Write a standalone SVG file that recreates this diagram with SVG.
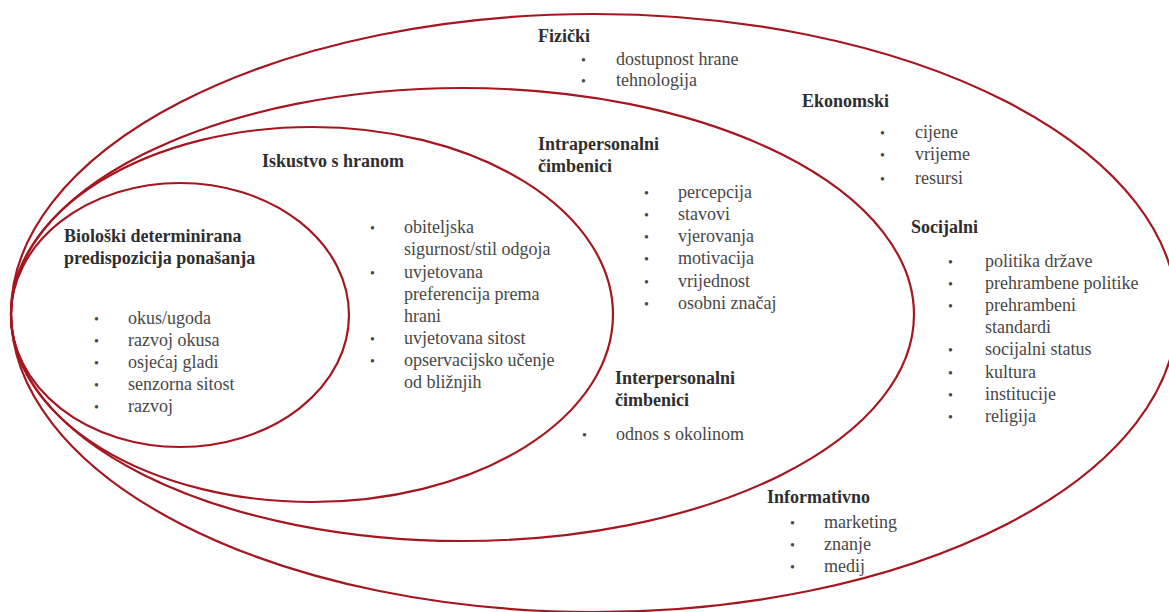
<svg xmlns="http://www.w3.org/2000/svg" width="1169" height="612" viewBox="0 0 1169 612">
<style>
.ring{fill:none;stroke:#a5161f;stroke-width:2.2}
text{font-family:'Liberation Serif','Times New Roman',serif}
.h{font-weight:bold;font-size:18px;fill:#2e2e2e}
.t{font-size:18px;fill:#474747}
.b{font-size:14px;fill:#474747}
</style>
<rect width="1169" height="612" fill="#fff"/>
<g id="connectors"/>
<g id="node-okolina">
<ellipse class="ring" cx="594" cy="313" rx="583" ry="299"/>
<text class="h" x="538" y="42">Fizički</text>
<text class="b" x="581" y="65">•</text><text class="t" x="616" y="65">dostupnost hrane</text>
<text class="b" x="581" y="86">•</text><text class="t" x="616" y="86">tehnologija</text>
<text class="h" x="802" y="107">Ekonomski</text>
<text class="b" x="880" y="138">•</text><text class="t" x="915" y="138">cijene</text>
<text class="b" x="880" y="160">•</text><text class="t" x="915" y="160">vrijeme</text>
<text class="b" x="880" y="184">•</text><text class="t" x="915" y="184">resursi</text>
<text class="h" x="911" y="233">Socijalni</text>
<text class="b" x="948" y="267">•</text><text class="t" x="985" y="267">politika države</text>
<text class="b" x="948" y="289">•</text><text class="t" x="985" y="289">prehrambene politike</text>
<text class="b" x="948" y="311">•</text><text class="t" x="985" y="311">prehrambeni</text>
<text class="t" x="985" y="333">standardi</text>
<text class="b" x="948" y="355">•</text><text class="t" x="985" y="355">socijalni status</text>
<text class="b" x="948" y="378">•</text><text class="t" x="985" y="378">kultura</text>
<text class="b" x="948" y="400">•</text><text class="t" x="985" y="400">institucije</text>
<text class="b" x="948" y="422">•</text><text class="t" x="985" y="422">religija</text>
<text class="h" x="767" y="503">Informativno</text>
<text class="b" x="790" y="528">•</text><text class="t" x="824" y="528">marketing</text>
<text class="b" x="790" y="550">•</text><text class="t" x="824" y="550">znanje</text>
<text class="b" x="790" y="572">•</text><text class="t" x="824" y="572">medij</text>
</g>
<g id="node-cimbenici">
<ellipse class="ring" cx="462.5" cy="314.5" rx="451.5" ry="226.5"/>
<text class="h" x="538" y="150">Intrapersonalni</text>
<text class="h" x="538" y="172">čimbenici</text>
<text class="b" x="644" y="198">•</text><text class="t" x="678" y="198">percepcija</text>
<text class="b" x="644" y="220">•</text><text class="t" x="678" y="220">stavovi</text>
<text class="b" x="644" y="242">•</text><text class="t" x="678" y="242">vjerovanja</text>
<text class="b" x="644" y="264">•</text><text class="t" x="678" y="264">motivacija</text>
<text class="b" x="644" y="287">•</text><text class="t" x="678" y="287">vrijednost</text>
<text class="b" x="644" y="309">•</text><text class="t" x="678" y="309">osobni značaj</text>
<text class="h" x="615" y="384">Interpersonalni</text>
<text class="h" x="615" y="406">čimbenici</text>
<text class="b" x="582" y="440">•</text><text class="t" x="616" y="440">odnos s okolinom</text>
</g>
<g id="node-iskustvo">
<ellipse class="ring" cx="312" cy="314.5" rx="301" ry="187.5"/>
<text class="h" x="262" y="167">Iskustvo s hranom</text>
<text class="b" x="370" y="233">•</text><text class="t" x="404" y="233">obiteljska</text>
<text class="t" x="404" y="255">sigurnost/stil odgoja</text>
<text class="b" x="370" y="278">•</text><text class="t" x="404" y="278">uvjetovana</text>
<text class="t" x="404" y="300">preferencija prema</text>
<text class="t" x="404" y="322">hrani</text>
<text class="b" x="370" y="344">•</text><text class="t" x="404" y="344">uvjetovana sitost</text>
<text class="b" x="370" y="366">•</text><text class="t" x="404" y="366">opservacijsko učenje</text>
<text class="t" x="404" y="388">od bližnjih</text>
</g>
<g id="node-bioloski">
<ellipse class="ring" cx="180" cy="315" rx="169" ry="132"/>
<text class="h" x="64" y="242">Biološki determinirana</text>
<text class="h" x="64" y="264">predispozicija ponašanja</text>
<text class="b" x="94" y="324">•</text><text class="t" x="128" y="324">okus/ugoda</text>
<text class="b" x="94" y="346">•</text><text class="t" x="128" y="346">razvoj okusa</text>
<text class="b" x="94" y="368">•</text><text class="t" x="128" y="368">osjećaj gladi</text>
<text class="b" x="94" y="390">•</text><text class="t" x="128" y="390">senzorna sitost</text>
<text class="b" x="94" y="412">•</text><text class="t" x="128" y="412">razvoj</text>
</g>
</svg>
